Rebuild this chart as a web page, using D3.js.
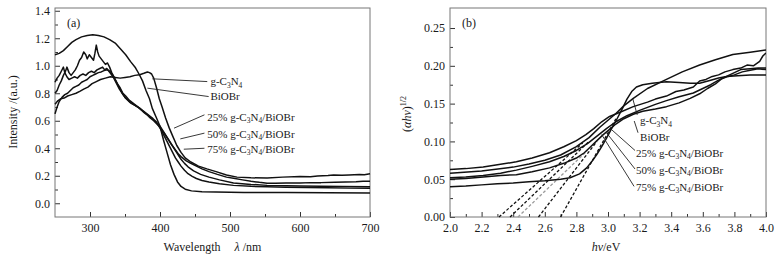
<!DOCTYPE html>
<html>
<head>
<meta charset="utf-8">
<script src="https://cdnjs.cloudflare.com/ajax/libs/d3/7.8.5/d3.min.js"></script>
<style>
  body { margin: 0; background: #fff; }
  svg { display: block; }
  text { font-family: "Liberation Serif", "Times New Roman", serif; fill: #1a1a1a; }
  .tick text { font-size: 12px; }
  .tick line { stroke: #333; }
  .curve { fill: none; stroke: #111; stroke-width: 1.5; stroke-linejoin: round; }
  .lead { stroke: #222; stroke-width: 0.9; }
  .tan { fill: none; stroke: #111; stroke-width: 1.3; stroke-dasharray: 3,2; }
</style>
</head>
<body>
<script>

// ---- panel (a): UV-vis DRS, [wavelength nm, intensity a.u.]
var seriesNames = ["g-C3N4", "BiOBr", "25% g-C3N4/BiOBr", "50% g-C3N4/BiOBr", "75% g-C3N4/BiOBr"];

var gcnA = [[250,0.72],[254,0.745],[258,0.76],[263,0.765],[268,0.78],[274,0.79],[280,0.80],[286,0.815],[291,0.83],[297,0.845],[303,0.87],[309,0.885],[315,0.90],[322,0.91],[329,0.92],[336,0.915],[343,0.91],[350,0.915],[357,0.92],[364,0.93],[371,0.935],[377,0.945],[382,0.955],[385,0.95],[388,0.94],[391,0.91],[395,0.84],[399,0.76],[403,0.70],[408,0.62],[413,0.55],[418,0.49],[424,0.42],[430,0.37],[436,0.33],[444,0.30],[455,0.27],[467,0.25],[480,0.23],[495,0.205],[510,0.19],[530,0.185],[553,0.183],[575,0.19],[600,0.195],[615,0.193],[625,0.198],[640,0.201],[648,0.205],[660,0.203],[670,0.206],[685,0.209],[692,0.207],[700,0.214]];

var biobrA = [[250,1.08],[256,1.09],[262,1.11],[268,1.14],[274,1.17],[280,1.19],[288,1.21],[296,1.22],[304,1.225],[312,1.22],[320,1.21],[328,1.19],[336,1.165],[344,1.12],[351,1.08],[358,1.03],[365,0.985],[370,0.94],[375,0.89],[380,0.82],[385,0.76],[389,0.69],[395,0.62],[400,0.56],[405,0.46],[410,0.37],[415,0.28],[420,0.21],[425,0.155],[430,0.122],[436,0.102],[445,0.09],[460,0.084],[480,0.081],[520,0.079],[580,0.078],[640,0.076],[700,0.075]];

var c25A = [[250,0.80],[253,0.82],[256,0.86],[259,0.89],[262,0.93],[265,0.96],[267,0.99],[270,0.95],[273,0.93],[276,0.95],[279,0.97],[282,1.00],[285,1.04],[288,1.06],[291,1.10],[294,1.08],[296,1.05],[299,1.08],[302,1.06],[305,1.04],[307,1.09],[309,1.15],[311,1.10],[313,1.07],[316,1.05],[319,1.03],[322,1.01],[325,1.02],[328,0.99],[331,0.95],[335,0.91],[339,0.87],[343,0.84],[347,0.80],[351,0.78],[356,0.75],[361,0.73],[366,0.71],[371,0.69],[376,0.665],[381,0.645],[386,0.62],[391,0.60],[396,0.575],[401,0.545],[406,0.51],[411,0.47],[416,0.43],[421,0.395],[426,0.36],[431,0.335],[437,0.31],[444,0.29],[452,0.27],[460,0.25],[470,0.23],[482,0.21],[495,0.19],[505,0.182],[518,0.17],[530,0.16],[542,0.152],[553,0.146],[565,0.145],[580,0.147],[600,0.147],[615,0.15],[630,0.15],[650,0.153],[665,0.155],[680,0.157],[690,0.16],[700,0.16]];

var c50A = [[250,0.88],[253,0.91],[256,0.93],[259,0.96],[262,0.99],[264,0.95],[267,0.92],[270,0.90],[274,0.91],[278,0.92],[282,0.91],[286,0.93],[290,0.94],[294,0.93],[298,0.95],[302,0.96],[306,0.95],[310,0.97],[314,0.98],[318,0.99],[321,0.97],[324,0.98],[327,0.96],[330,0.94],[334,0.91],[338,0.87],[342,0.83],[346,0.80],[350,0.77],[355,0.745],[360,0.725],[365,0.71],[370,0.695],[375,0.675],[380,0.655],[385,0.635],[390,0.615],[395,0.59],[400,0.56],[405,0.52],[410,0.48],[415,0.44],[420,0.40],[425,0.36],[430,0.32],[435,0.29],[440,0.265],[448,0.235],[458,0.21],[470,0.19],[485,0.17],[505,0.148],[530,0.137],[553,0.13],[580,0.127],[600,0.125],[630,0.123],[660,0.121],[700,0.12]];

var c75A = [[250,0.65],[253,0.70],[256,0.74],[260,0.77],[264,0.79],[268,0.80],[272,0.82],[276,0.84],[280,0.85],[284,0.86],[288,0.88],[292,0.89],[296,0.90],[300,0.92],[304,0.93],[308,0.94],[312,0.95],[316,0.955],[320,0.965],[324,0.97],[327,0.965],[330,0.95],[334,0.92],[338,0.88],[342,0.84],[346,0.80],[350,0.77],[354,0.75],[358,0.73],[363,0.715],[368,0.70],[373,0.68],[378,0.66],[383,0.64],[388,0.62],[393,0.595],[398,0.565],[402,0.53],[406,0.49],[410,0.45],[414,0.41],[418,0.37],[422,0.33],[426,0.30],[430,0.27],[435,0.24],[440,0.215],[446,0.195],[452,0.18],[460,0.165],[470,0.155],[485,0.142],[505,0.13],[530,0.123],[553,0.12],[580,0.117],[610,0.114],[640,0.112],[670,0.11],[700,0.109]];

// ---- panel (b): Tauc plot, [hv eV, (ahv)^1/2]
var gcnB = [[2.0,0.058],[2.2,0.061],[2.4,0.066],[2.5,0.070],[2.6,0.075],[2.7,0.082],[2.8,0.093],[2.88,0.105],[2.95,0.119],[3.0,0.128],[3.05,0.137],[3.1,0.147],[3.16,0.157],[3.25,0.170],[3.37,0.182],[3.47,0.192],[3.58,0.201],[3.68,0.208],[3.79,0.215],[3.9,0.218],[4.0,0.221]];

var biobrB = [[2.0,0.040],[2.1,0.041],[2.2,0.0425],[2.3,0.044],[2.4,0.045],[2.5,0.0465],[2.6,0.048],[2.7,0.050],[2.76,0.052],[2.82,0.057],[2.865,0.065],[2.9,0.074],[2.93,0.083],[2.96,0.093],[2.99,0.104],[3.02,0.116],[3.055,0.129],[3.09,0.143],[3.12,0.156],[3.15,0.166],[3.18,0.172],[3.22,0.175],[3.28,0.177],[3.37,0.179],[3.45,0.178],[3.52,0.177],[3.58,0.177],[3.65,0.181],[3.7,0.184],[3.75,0.186],[3.82,0.187],[3.9,0.188],[4.0,0.188]];

var c25B = [[2.0,0.063],[2.1,0.064],[2.21,0.066],[2.3,0.069],[2.42,0.073],[2.52,0.078],[2.63,0.085],[2.72,0.093],[2.8,0.101],[2.86,0.109],[2.91,0.117],[2.96,0.126],[3.01,0.133],[3.08,0.139],[3.16,0.146],[3.25,0.152],[3.3,0.156],[3.37,0.16],[3.43,0.166],[3.48,0.168],[3.54,0.172],[3.58,0.180],[3.62,0.182],[3.66,0.186],[3.70,0.188],[3.74,0.192],[3.79,0.195],[3.84,0.197],[3.88,0.201],[3.92,0.200],[3.96,0.206],[3.98,0.213],[4.0,0.217]];

var c50B = [[2.0,0.052],[2.1,0.053],[2.21,0.055],[2.32,0.058],[2.42,0.062],[2.52,0.067],[2.63,0.073],[2.72,0.080],[2.8,0.088],[2.87,0.097],[2.93,0.107],[2.99,0.117],[3.05,0.126],[3.12,0.134],[3.2,0.141],[3.3,0.149],[3.37,0.154],[3.45,0.159],[3.54,0.164],[3.6,0.17],[3.65,0.175],[3.7,0.181],[3.75,0.186],[3.8,0.191],[3.84,0.195],[3.9,0.196],[3.95,0.197],[4.0,0.197]];

var c75B = [[2.0,0.050],[2.1,0.051],[2.21,0.053],[2.32,0.055],[2.42,0.056],[2.52,0.060],[2.63,0.065],[2.72,0.071],[2.8,0.078],[2.85,0.085],[2.89,0.093],[2.93,0.101],[2.97,0.109],[3.01,0.116],[3.05,0.123],[3.1,0.130],[3.16,0.136],[3.22,0.140],[3.3,0.143],[3.37,0.146],[3.45,0.151],[3.52,0.157],[3.58,0.163],[3.63,0.170],[3.68,0.176],[3.72,0.183],[3.76,0.186],[3.8,0.188],[3.85,0.192],[3.9,0.194],[3.95,0.196],[4.0,0.195]];

// tangent (band gap) extrapolations: x-intercept, end point
var tanStart = [2.31, 2.38, 2.43, 2.56, 2.70];
var tanEndX  = [2.84, 2.88, 2.87, 2.93, 3.05];
var tanEndY  = [0.098, 0.100, 0.088, 0.100, 0.130];

// tick values
var aXTicks = [300, 400, 500, 600, 700], aXMinor = [350, 450, 550, 650];
var aYTicks = [0, 0.2, 0.4, 0.6, 0.8, 1.0, 1.2, 1.4], aYMinor = [0.1, 0.3, 0.5, 0.7, 0.9, 1.1, 1.3];
var bXTicks = [2.0, 2.2, 2.4, 2.6, 2.8, 3.0, 3.2, 3.4, 3.6, 3.8, 4.0];
var bXMinor = [2.1, 2.3, 2.5, 2.7, 2.9, 3.1, 3.3, 3.5, 3.7, 3.9];
var bYTicks = [0, 0.05, 0.10, 0.15, 0.20, 0.25], bYMinor = [0.025, 0.075, 0.125, 0.175, 0.225];


var W = 781, H = 260;
var svg = d3.select("body").append("svg").attr("width", W).attr("height", H);

// panel layout
var pa = { left: 55, top: 8, width: 315, height: 209 };
var pb = { left: 450, top: 8, width: 316, height: 209 };

var xa = d3.scaleLinear().domain([250, 700]).range([0, pa.width]);
var ya = d3.scaleLinear().domain([-0.1, 1.42]).range([pa.height, 0]);
var xb = d3.scaleLinear().domain([2.0, 4.0]).range([0, pb.width]);
var yb = d3.scaleLinear().domain([0, 0.2765]).range([pb.height, 0]);

var ga = svg.append("g").attr("transform", "translate(" + pa.left + "," + pa.top + ")");
var gb = svg.append("g").attr("transform", "translate(" + pb.left + "," + pb.top + ")");

// text with chemical subscripts (digit after C or N)
function chem(sel, str) {
    var sub = false;
    for (var i = 0; i < str.length; i++) {
        var c = str[i];
        var isSub = /\d/.test(c) && i > 0 && /[CN]/.test(str[i - 1]);
        if (isSub) {
            sel.append("tspan").attr("font-size", "7.5px").attr("dy", sub ? 0 : 2.5).text(c);
            sub = true;
        } else {
            sel.append("tspan").attr("dy", sub ? -2.5 : 0).text(c);
            sub = false;
        }
    }
}

function drawAxes(g, p, x, y, xt, xm, yt, ym, xf, yf) {
    g.append("g").attr("class", "x axis")
        .attr("transform", "translate(0," + p.height + ")")
        .call(d3.axisBottom(x).tickValues(xt).tickSize(-5).tickPadding(6).tickFormat(xf))
        .call(function (s) { s.select(".domain").remove(); });
    g.append("g")
        .attr("transform", "translate(0," + p.height + ")")
        .call(d3.axisBottom(x).tickValues(xm).tickSize(-3).tickFormat(""))
        .call(function (s) { s.select(".domain").remove(); });
    g.append("g").attr("class", "y axis")
        .call(d3.axisLeft(y).tickValues(yt).tickSize(-5).tickPadding(5).tickFormat(yf))
        .call(function (s) { s.select(".domain").remove(); });
    g.append("g")
        .call(d3.axisLeft(y).tickValues(ym).tickSize(-3).tickFormat(""))
        .call(function (s) { s.select(".domain").remove(); });
    g.selectAll(".tick text").attr("fill", "#1a1a1a");
    g.append("rect")
        .attr("width", p.width).attr("height", p.height)
        .attr("fill", "none").attr("stroke", "#777").attr("stroke-width", 1);
}

drawAxes(ga, pa, xa, ya, aXTicks, aXMinor, aYTicks, aYMinor, d3.format("d"), d3.format(".1f"));
drawAxes(gb, pb, xb, yb, bXTicks, bXMinor, bYTicks, bYMinor, d3.format(".1f"), d3.format(".2f"));

// ---- curves (a)
var lineA = d3.line().x(function (d) { return xa(d[0]); }).y(function (d) { return ya(d[1]); });
[gcnA, biobrA, c25A, c50A, c75A].forEach(function (s) {
    ga.append("path").attr("class", "curve").attr("d", lineA(s));
});

// ---- tangents + curves (b)
gb.append("defs").append("clipPath").attr("id", "clipb")
    .append("rect").attr("width", pb.width).attr("height", pb.height);
var lineB = d3.line().x(function (d) { return xb(d[0]); }).y(function (d) { return yb(d[1]); });
tanStart.forEach(function (s, i) {
    gb.append("path").attr("class", "tan")
        .style("stroke", i == 2 ? "#9a9a9a" : null)
        .attr("d", lineB([[s, 0], [tanEndX[i], tanEndY[i]]]));
});
[gcnB, biobrB, c25B, c50B, c75B].forEach(function (s) {
    gb.append("path").attr("class", "curve").attr("clip-path", "url(#clipb)").attr("d", lineB(s));
});

// ---- labels with leader lines (positions in data units)
var labA = [
    { t: [472, 0.858], from: [467.5, 0.885], to: [389, 0.905] },
    { t: [472, 0.752], from: [469.5, 0.776], to: [382, 0.837] },
    { t: [467.5, 0.600], from: [463.5, 0.643], to: [420, 0.546] },
    { t: [467.5, 0.475], from: [463.5, 0.510], to: [429, 0.468] },
    { t: [467.5, 0.366], from: [463.5, 0.400], to: [434, 0.393] }
];
var labB = [
    { t: [3.203, 0.123], from: [3.185, 0.135], to: [3.156, 0.157] },
    { t: [3.203, 0.101], from: [3.19, 0.1115], to: [3.166, 0.127] },
    { t: [3.177, 0.080], from: [3.171, 0.088], to: [3.023, 0.1155] },
    { t: [3.177, 0.057], from: [3.171, 0.0635], to: [2.992, 0.111] },
    { t: [3.177, 0.035], from: [3.165, 0.0405], to: [2.96, 0.109] }
];

function drawLabels(g, x, y, labs) {
    labs.forEach(function (l, i) {
        g.append("line").attr("class", "lead")
            .attr("x1", x(l.from[0])).attr("y1", y(l.from[1]))
            .attr("x2", x(l.to[0])).attr("y2", y(l.to[1]));
        var txt = g.append("text").attr("x", x(l.t[0])).attr("y", y(l.t[1]))
            .attr("font-size", "11px");
        chem(txt, seriesNames[i]);
    });
}
drawLabels(ga, xa, ya, labA);
drawLabels(gb, xb, yb, labB);

// panel tags
ga.append("text").attr("x", 12).attr("y", 19).attr("font-size", "12px").text("(a)");
gb.append("text").attr("x", 12).attr("y", 19).attr("font-size", "12px").text("(b)");

// axis titles
svg.append("text").attr("transform", "translate(17,112) rotate(-90)")
    .attr("text-anchor", "middle").attr("font-size", "12px").text("Intensity /(a.u.)");

var xta = svg.append("text").attr("x", pa.left + pa.width / 2).attr("y", 251)
    .attr("text-anchor", "middle").attr("font-size", "12px");
xta.append("tspan").text("Wavelength");
xta.append("tspan").attr("dx", 14).attr("font-style", "italic").text("λ");
xta.append("tspan").text(" /nm");

var yt = svg.append("text").attr("transform", "translate(411,114) rotate(-90)")
    .attr("text-anchor", "middle").attr("font-size", "12px");
yt.append("tspan").text("(");
yt.append("tspan").attr("font-style", "italic").text("αhν");
yt.append("tspan").text(")");
yt.append("tspan").attr("font-size", "8px").attr("dy", -5).text("1/2");

var xtb = svg.append("text").attr("x", pb.left + pb.width / 2 - 2).attr("y", 251)
    .attr("text-anchor", "middle").attr("font-size", "12px");
xtb.append("tspan").attr("font-style", "italic").text("hν");
xtb.append("tspan").text("/eV");

</script>
</body>
</html>
